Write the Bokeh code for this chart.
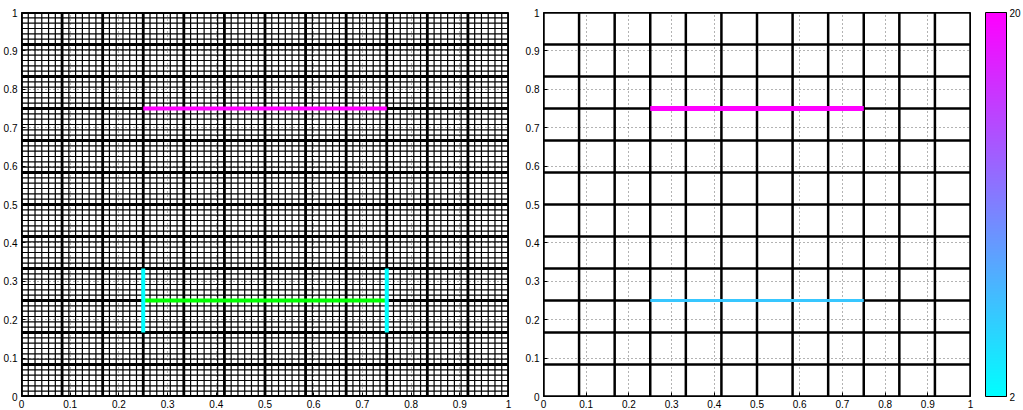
import numpy as np
from bokeh.plotting import figure
from bokeh.models import Range1d, FixedTicker, ColorBar, LinearColorMapper, ColumnDataSource
from bokeh.layouts import row
from bokeh.embed import file_html
from bokeh.resources import INLINE

# ---------------- data ----------------
tick_values = [0, 0.1, 0.2, 0.3, 0.4, 0.5, 0.6, 0.7, 0.8, 0.9, 1.0]
tick_labels = ["0", "0.1", "0.2", "0.3", "0.4", "0.5", "0.6", "0.7", "0.8", "0.9", "1"]

# coarse mesh lines (12 x 12 cells)
coarse_lines = [0, 1/12, 2/12, 3/12, 4/12, 5/12, 6/12, 7/12, 8/12, 9/12, 10/12, 11/12, 1]
# left mesh: each coarse cell split 6 x 6
fine_subdivisions = 6

# left panel colored segments
left_x0 = [0.25, 0.25, 0.25, 0.75]
left_y0 = [0.75, 0.25, 1/6, 1/6]
left_x1 = [0.75, 0.75, 0.25, 0.75]
left_y1 = [0.75, 0.25, 1/3, 1/3]
left_colors = ["#ff00ff", "#00ff00", "#00ffff", "#00ffff"]
left_widths = [4, 4, 4, 4]

# right panel colored segments (colored by value)
right_x0 = [0.25, 0.25]
right_y0 = [0.75, 0.25]
right_x1 = [0.75, 0.75]
right_y1 = [0.75, 0.25]
right_values = [20, 6]
right_widths = [5, 3]

cbar_low, cbar_high = 2, 20
cbar_ticks = [2, 20]

# "cool" colormap (cyan -> magenta)
cool = ["#%02x%02x%02x" % (int(round(255 * t)), int(round(255 * (1 - t))), 255)
        for t in np.linspace(0, 1, 256)]

FONT = "Liberation Sans"
H = 410


def make_fig(width, min_border_right):
    p = figure(width=width, height=H, x_range=Range1d(0, 1), y_range=Range1d(0, 1),
               output_backend="svg", toolbar_location=None,
               min_border_top=12, min_border_left=0, min_border_right=min_border_right,
               min_border_bottom=0)
    p.outline_line_color = "black"
    p.outline_line_width = 1
    overrides = {v: l for v, l in zip(tick_values, tick_labels)}
    for ax in (p.xaxis, p.yaxis):
        ax.ticker = FixedTicker(ticks=tick_values)
        ax.major_label_overrides = overrides
        ax.axis_line_color = None
        ax.major_tick_in = 4
        ax.major_tick_out = 0
        ax.major_tick_line_color = "black"
        ax.minor_tick_line_color = None
        ax.major_label_text_font = FONT
        ax.major_label_text_font_size = "10px"
        ax.major_label_text_color = "black"
    p.yaxis.major_label_standoff = 4
    p.xaxis.major_label_standoff = 3
    p.grid.grid_line_color = "#666666"
    p.grid.grid_line_dash = "1 3"
    p.grid.grid_line_width = 1
    p.background_fill_color = "white"
    return p


def mesh_source(positions):
    n = len(positions)
    xs0 = list(positions) + [0.0] * n
    xs1 = list(positions) + [1.0] * n
    ys0 = [0.0] * n + list(positions)
    ys1 = [1.0] * n + list(positions)
    return ColumnDataSource(dict(x0=xs0, y0=ys0, x1=xs1, y1=ys1))


# ---------------- left panel ----------------
p1 = make_fig(522, 14)
fine = []
for a, b in zip(coarse_lines[:-1], coarse_lines[1:]):
    for k in range(1, fine_subdivisions):
        fine.append(a + (b - a) * k / fine_subdivisions)
p1.segment("x0", "y0", "x1", "y1", source=mesh_source(fine), line_color="black",
           line_width=1.2, line_alpha=1.0)
p1.segment("x0", "y0", "x1", "y1", source=mesh_source(coarse_lines), line_color="black",
           line_width=2.8)
p1.segment(x0=left_x0, y0=left_y0, x1=left_x1, y1=left_y1, line_color=left_colors,
           line_width=left_widths)

# ---------------- right panel ----------------
p2 = make_fig(501, 0)
p2.segment("x0", "y0", "x1", "y1", source=mesh_source(coarse_lines), line_color="black",
           line_width=2.5)
mapper = LinearColorMapper(palette=cool, low=cbar_low, high=cbar_high)
rsrc = ColumnDataSource(dict(x0=right_x0, y0=right_y0, x1=right_x1, y1=right_y1,
                             v=right_values, w=right_widths))
p2.segment("x0", "y0", "x1", "y1", source=rsrc, line_width="w",
           line_color={"field": "v", "transform": mapper})

cb = ColorBar(color_mapper=mapper, ticker=FixedTicker(ticks=cbar_ticks), width=21,
              padding=0, margin=2, location=(15, 0), bar_line_color="black",
              major_tick_line_color="black", major_tick_in=4, major_tick_out=0,
              label_standoff=3, major_label_text_font=FONT,
              major_label_text_font_size="10px", major_label_text_color="black",
              border_line_color=None, background_fill_color=None)
p2.add_layout(cb, "right")

layout = row(p1, p2)
open("out.html", "w").write(file_html(layout, INLINE))
